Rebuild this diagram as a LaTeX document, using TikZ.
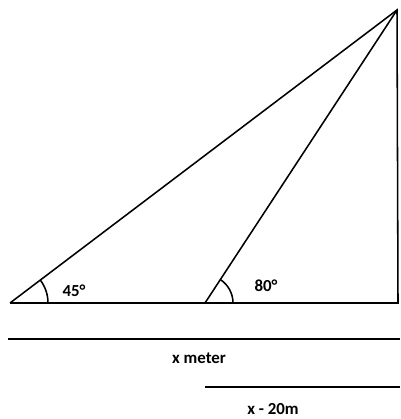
\documentclass[tikz,border=0pt]{standalone}
\usepackage{fontspec}
\setmainfont{Carlito}
\usepackage{tikz}
\usetikzlibrary{positioning,calc}

\begin{document}
\begin{tikzpicture}[x=0.025cm,y=0.025cm,line width=1.1pt,font=\fontsize{12}{14}\selectfont\bfseries]
  \useasboundingbox (0,0) rectangle (400,419);
  % the triangle
  \coordinate (A) at (10,116);
  \coordinate (B) at (205,116);
  \coordinate (C) at (398,116);
  \coordinate (T) at (397,409);
  \draw (A)--(C)--(T)--(A);
  \draw (B)--(T);
  % angle marks
  \draw ($(A)+(38,0)$) arc[start angle=0,end angle=37,radius=38];
  \draw ($(B)+(28,0)$) arc[start angle=0,end angle=57,radius=28];
  \node (a45) at (74,128) {45°};
  \node (a80) at (266,133) {80°};
  % distances
  \coordinate (d1) at (8,80);
  \coordinate (d2) at (400,80);
  \draw (d1)--(d2);
  \node (xm) at (199,61) {x meter};
  \coordinate (e1) at (205,32);
  \coordinate (e2) at (400,32);
  \draw (e1)--(e2);
  \node (xm20) at (273,10) {x - 20m};
\end{tikzpicture}
\end{document}
